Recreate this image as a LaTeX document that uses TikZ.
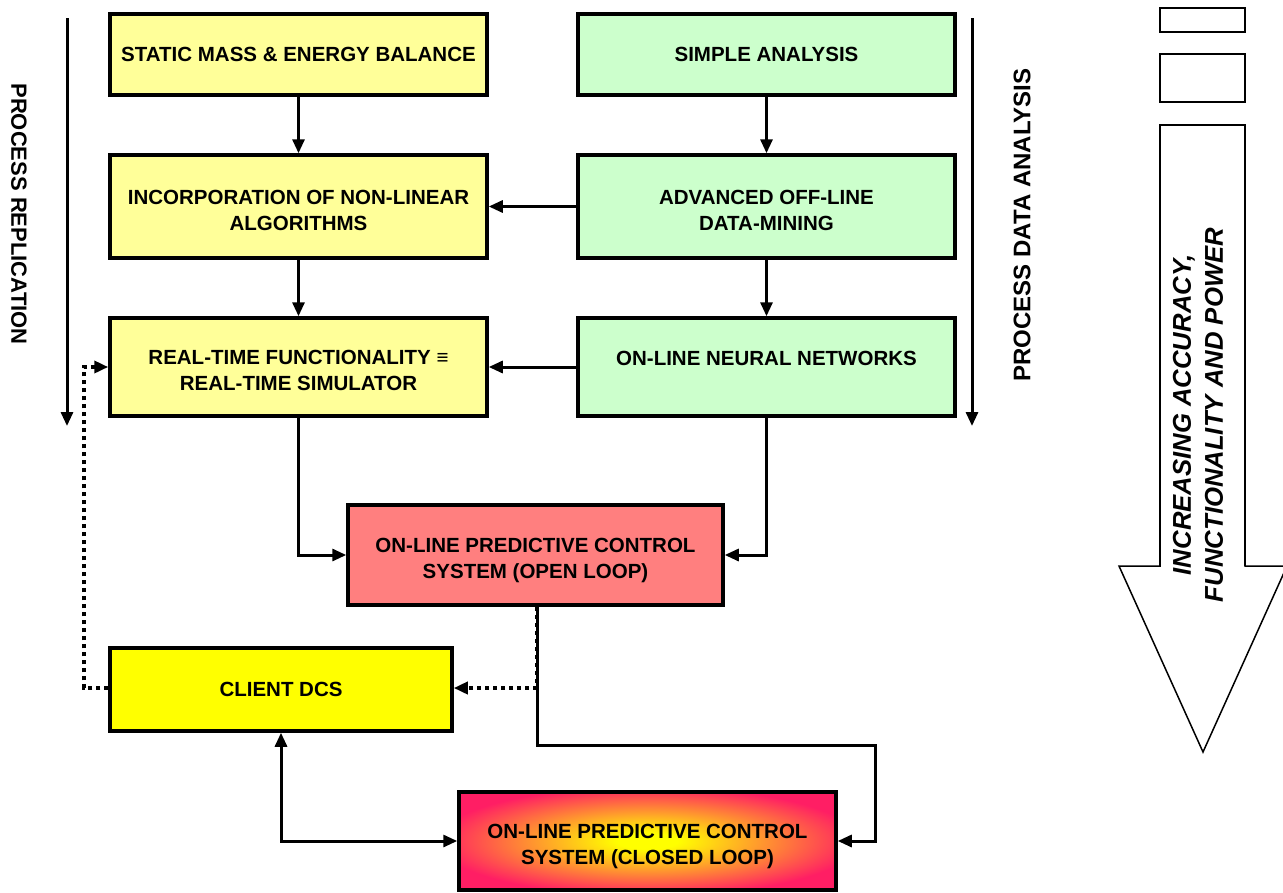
\documentclass[tikz,border=0pt]{standalone}
\usepackage{fontspec}
\setmainfont{Liberation Sans}
\usetikzlibrary{arrows.meta,shadings}

\definecolor{paleyellow}{HTML}{FFFF99}
\definecolor{palegreen}{HTML}{CCFFCC}
\definecolor{salmon}{HTML}{FF7F7F}
\definecolor{dcsyellow}{HTML}{FFFF00}
\definecolor{hotpink}{RGB}{255,30,100}

% yellow core fading out to pink at the rim
\pgfdeclareradialshading{glow}{\pgfpoint{0bp}{0bp}}{%
  color(0bp)=(dcsyellow); color(4bp)=(dcsyellow); color(28bp)=(hotpink); color(75bp)=(hotpink)}

\begin{document}
\begin{tikzpicture}[x=1pt,y=-1pt,
  box/.style={draw, line width=3.5pt, align=center, inner sep=0pt,
    font=\fontsize{20.5}{26}\selectfont\bfseries},
  wide/.style={box, minimum width=377pt},
  twoline/.style={text height=47.5pt, text depth=0pt},
  topline/.style={text height=15pt, text depth=19pt},
  replbox/.style={wide, fill=paleyellow},
  databox/.style={wide, fill=palegreen},
  tip/.style={-{Triangle[length=14pt,width=12pt]}},
  arr/.style={line width=3pt, tip},
  twoway/.style={line width=3pt, {Triangle[length=14pt,width=12pt]}-{Triangle[length=14pt,width=12pt]}},
  dotline/.style={line width=3.8pt, dash pattern=on 4pt off 4pt},
  outline/.style={draw, line width=2.5pt}
]
\useasboundingbox (0,0) rectangle (1283,892);

% left column: process replication
\node[replbox, minimum height=81pt]           (static) at (298.5,54.5)  {STATIC MASS \& ENERGY BALANCE};
\node[replbox, twoline, minimum height=103pt] (incorp) at (298.5,206.5) {INCORPORATION OF NON-LINEAR\\ALGORITHMS};
\node[replbox, twoline, minimum height=98pt]  (rt)     at (298.5,367)   {REAL-TIME FUNCTIONALITY \char"2261\\REAL-TIME SIMULATOR};

% right column: process data analysis
\node[databox, minimum height=81pt]           (simple) at (766.5,54.5)  {SIMPLE ANALYSIS};
\node[databox, twoline, minimum height=103pt] (adv)    at (766.5,206.5) {ADVANCED OFF-LINE\\DATA-MINING};
\node[databox, topline, minimum height=98pt]  (nn)     at (766.5,367)   {ON-LINE NEURAL NETWORKS};

% control systems
\node[box, twoline, fill=salmon, minimum width=375pt, minimum height=100pt] (open) at (535.5,555)
  {ON-LINE PREDICTIVE CONTROL\\SYSTEM (OPEN LOOP)};
\node[box, fill=dcsyellow, minimum width=342pt, minimum height=83pt] (client) at (281,689.5)
  {CLIENT DCS};
\node[box, twoline, minimum width=377pt, minimum height=98pt, shading=glow]
  (closed) at (647.5,841) {ON-LINE PREDICTIVE CONTROL\\SYSTEM (CLOSED LOOP)};

% vertical flow within the columns
\draw[arr] (static) -- (incorp);
\draw[arr] (incorp) -- (rt);
\draw[arr] (simple) -- (adv);
\draw[arr] (adv) -- (nn);
% data analysis feeding the replication column
\draw[arr] (adv) -- (incorp);
\draw[arr] (nn) -- (rt);
% both columns into the open-loop system
\draw[arr] (rt.south) |- (open.west);
\draw[arr] (nn.south) |- (open.east);

% open loop to closed loop and to the DCS
\coordinate (drop)  at (537,745);
\coordinate (turn)  at (875,745);
\coordinate (split) at (537,688);
\coordinate (back)  at (84,688);
\draw[arr] (open.south -| drop) -- (drop) -- (turn) |- (closed.east);
\draw[dotline] (open.south -| split) -- (split);
\draw[dotline, tip] (split) -- (client.east |- split);
\draw[dotline, tip] (client.west |- back) -- (back) -- (back |- rt.west) -- (rt.west);
\draw[twoway] (client.south) |- (closed.west);

% side arrows and their labels
\coordinate (ltop) at (67,18);  \coordinate (lbot) at (67,426);
\coordinate (rtop) at (972,18); \coordinate (rbot) at (972,426);
\draw[arr] (ltop) -- (lbot);
\draw[arr] (rtop) -- (rbot);
\node[rotate=-90, font=\fontsize{22}{26}\selectfont\bfseries] (repl) at (19,214) {PROCESS REPLICATION};
\node[rotate=90, font=\fontsize{24}{28}\selectfont\bfseries]  (pda)  at (1022,225) {PROCESS DATA ANALYSIS};

% increasing-capability arrow
\draw[outline] (1160,8) rectangle (1245,32);
\draw[outline] (1160,54) rectangle (1245,102);
\draw[line width=1.5pt, fill=white] (1160,125) -- (1245,125) -- (1245,566) -- (1287,566)
  -- (1203,752) -- (1119,566) -- (1160,566) -- cycle;
\draw[line width=2.5pt] (1160,566) -- (1160,125) -- (1245,125) -- (1245,566);
\node[rotate=90, align=center, font=\fontsize{25.7}{32}\selectfont\bfseries\itshape]
  (gain) at (1198,415) {INCREASING ACCURACY,\\FUNCTIONALITY AND POWER};
\end{tikzpicture}
\end{document}
